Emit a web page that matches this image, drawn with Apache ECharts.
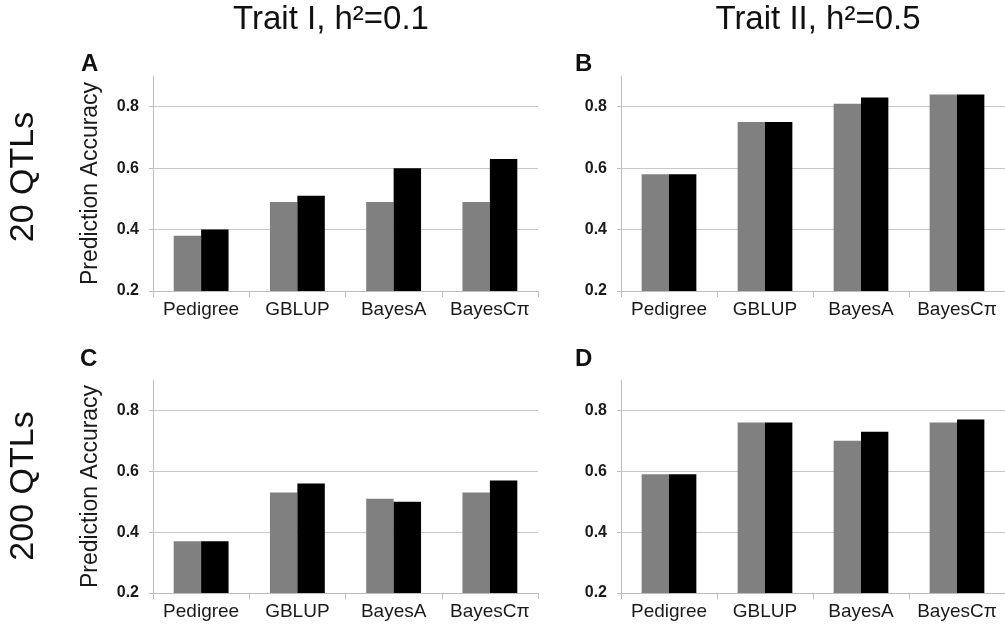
<!DOCTYPE html>
<html>
<head>
<meta charset="utf-8">
<script src="https://cdn.jsdelivr.net/npm/echarts@6/dist/echarts.min.js"></script>
<style>html,body{margin:0;padding:0;background:#fff}#c{width:1005px;height:626px}</style>
</head>
<body>
<div id="c"></div>
<script>
var categories = ['Pedigree', 'GBLUP', 'BayesA', 'BayesC\u03c0'];
var yTicks = [0.2, 0.4, 0.6, 0.8];
// Panel A: 20 QTLs, Trait I
var aGray  = [0.38, 0.49, 0.49, 0.49];
var aBlack = [0.40, 0.51, 0.60, 0.63];
// Panel B: 20 QTLs, Trait II
var bGray  = [0.58, 0.75, 0.81, 0.84];
var bBlack = [0.58, 0.75, 0.83, 0.84];
// Panel C: 200 QTLs, Trait I
var cGray  = [0.37, 0.53, 0.51, 0.53];
var cBlack = [0.37, 0.56, 0.50, 0.57];
// Panel D: 200 QTLs, Trait II
var dGray  = [0.59, 0.76, 0.70, 0.76];
var dBlack = [0.59, 0.76, 0.73, 0.77];

var colTitles = ['Trait I, h\u00b2=0.1', 'Trait II, h\u00b2=0.5'];
var rowTitles = ['20 QTLs', '200 QTLs'];
var panelLetters = ['A', 'B', 'C', 'D'];
var yName = 'Prediction Accuracy';

var panels = [[aGray, aBlack], [bGray, bBlack], [cGray, cBlack], [dGray, dBlack]];
var grids = [
  {left: 153, top: 76, width: 385, height: 215},
  {left: 621, top: 76, width: 385, height: 215},
  {left: 153, top: 380, width: 385, height: 213},
  {left: 621, top: 380, width: 385, height: 213}
];
var font = '"Liberation Sans", Arial, sans-serif';
var axisColor = '#bdbdbd';

var xAxes = [], yAxes = [], series = [];
grids.forEach(function (g, i) {
  xAxes.push({
    type: 'category', gridIndex: i, data: categories,
    axisLine: {show: true, lineStyle: {color: axisColor, width: 1}},
    axisTick: {show: true, length: 6, lineStyle: {color: axisColor}},
    axisLabel: {fontSize: 19, color: '#1a1a1a', fontFamily: font, margin: 9, interval: 0}
  });
  yAxes.push({
    type: 'value', gridIndex: i, min: 0.2, max: 0.9, interval: 0.2,
    name: (i % 2 === 0) ? yName : '',
    nameLocation: 'middle', nameGap: 51,
    nameTextStyle: {fontSize: 23, color: '#1a1a1a', fontFamily: font},
    axisLine: {show: true, lineStyle: {color: axisColor, width: 1}},
    axisTick: {show: true, length: 4, lineStyle: {color: axisColor}},
    splitLine: {show: true, showMaxLine: false, lineStyle: {color: '#c8c8c8', width: 1}},
    axisLabel: {
      showMaxLabel: false, fontSize: 16, fontWeight: 'bold', color: '#1a1a1a', fontFamily: font, margin: 14,
      formatter: function (v) { return yTicks.indexOf(Math.round(v * 10) / 10) >= 0 ? v.toFixed(1) : ''; }
    }
  });
  series.push({
    type: 'bar', xAxisIndex: i, yAxisIndex: i, data: panels[i][0],
    barWidth: '28.5%', barGap: '0%', itemStyle: {color: '#808080'}, silent: true
  });
  series.push({
    type: 'bar', xAxisIndex: i, yAxisIndex: i, data: panels[i][1],
    barWidth: '28.5%', barGap: '0%', itemStyle: {color: '#000000'}, silent: true
  });
});

var graphics = [
  {type: 'text', x: 331, y: 20, style: {text: colTitles[0], fontSize: 33, fontFamily: font, fill: '#111', textAlign: 'center', textVerticalAlign: 'middle'}},
  {type: 'text', x: 818, y: 20, style: {text: colTitles[1], fontSize: 33, fontFamily: font, fill: '#111', textAlign: 'center', textVerticalAlign: 'middle'}},
  {type: 'text', x: 24, y: 177, rotation: Math.PI / 2, style: {text: rowTitles[0], fontSize: 34, fontFamily: font, fill: '#111', textAlign: 'center', textVerticalAlign: 'middle'}},
  {type: 'text', x: 24, y: 486, rotation: Math.PI / 2, style: {text: rowTitles[1], fontSize: 34, fontFamily: font, fill: '#111', textAlign: 'center', textVerticalAlign: 'middle'}},
  {type: 'text', x: 81, y: 64, style: {text: panelLetters[0], fontSize: 24, fontWeight: 'bold', fontFamily: font, fill: '#111', textAlign: 'left', textVerticalAlign: 'middle'}},
  {type: 'text', x: 575, y: 64, style: {text: panelLetters[1], fontSize: 24, fontWeight: 'bold', fontFamily: font, fill: '#111', textAlign: 'left', textVerticalAlign: 'middle'}},
  {type: 'text', x: 80, y: 359, style: {text: panelLetters[2], fontSize: 24, fontWeight: 'bold', fontFamily: font, fill: '#111', textAlign: 'left', textVerticalAlign: 'middle'}},
  {type: 'text', x: 575, y: 359, style: {text: panelLetters[3], fontSize: 24, fontWeight: 'bold', fontFamily: font, fill: '#111', textAlign: 'left', textVerticalAlign: 'middle'}}
];

var chart = echarts.init(document.getElementById('c'), null, {renderer: 'canvas'});
chart.setOption({
  animation: false,
  backgroundColor: '#fff',
  grid: grids,
  xAxis: xAxes,
  yAxis: yAxes,
  series: series,
  graphic: graphics
});
</script>
</body>
</html>
